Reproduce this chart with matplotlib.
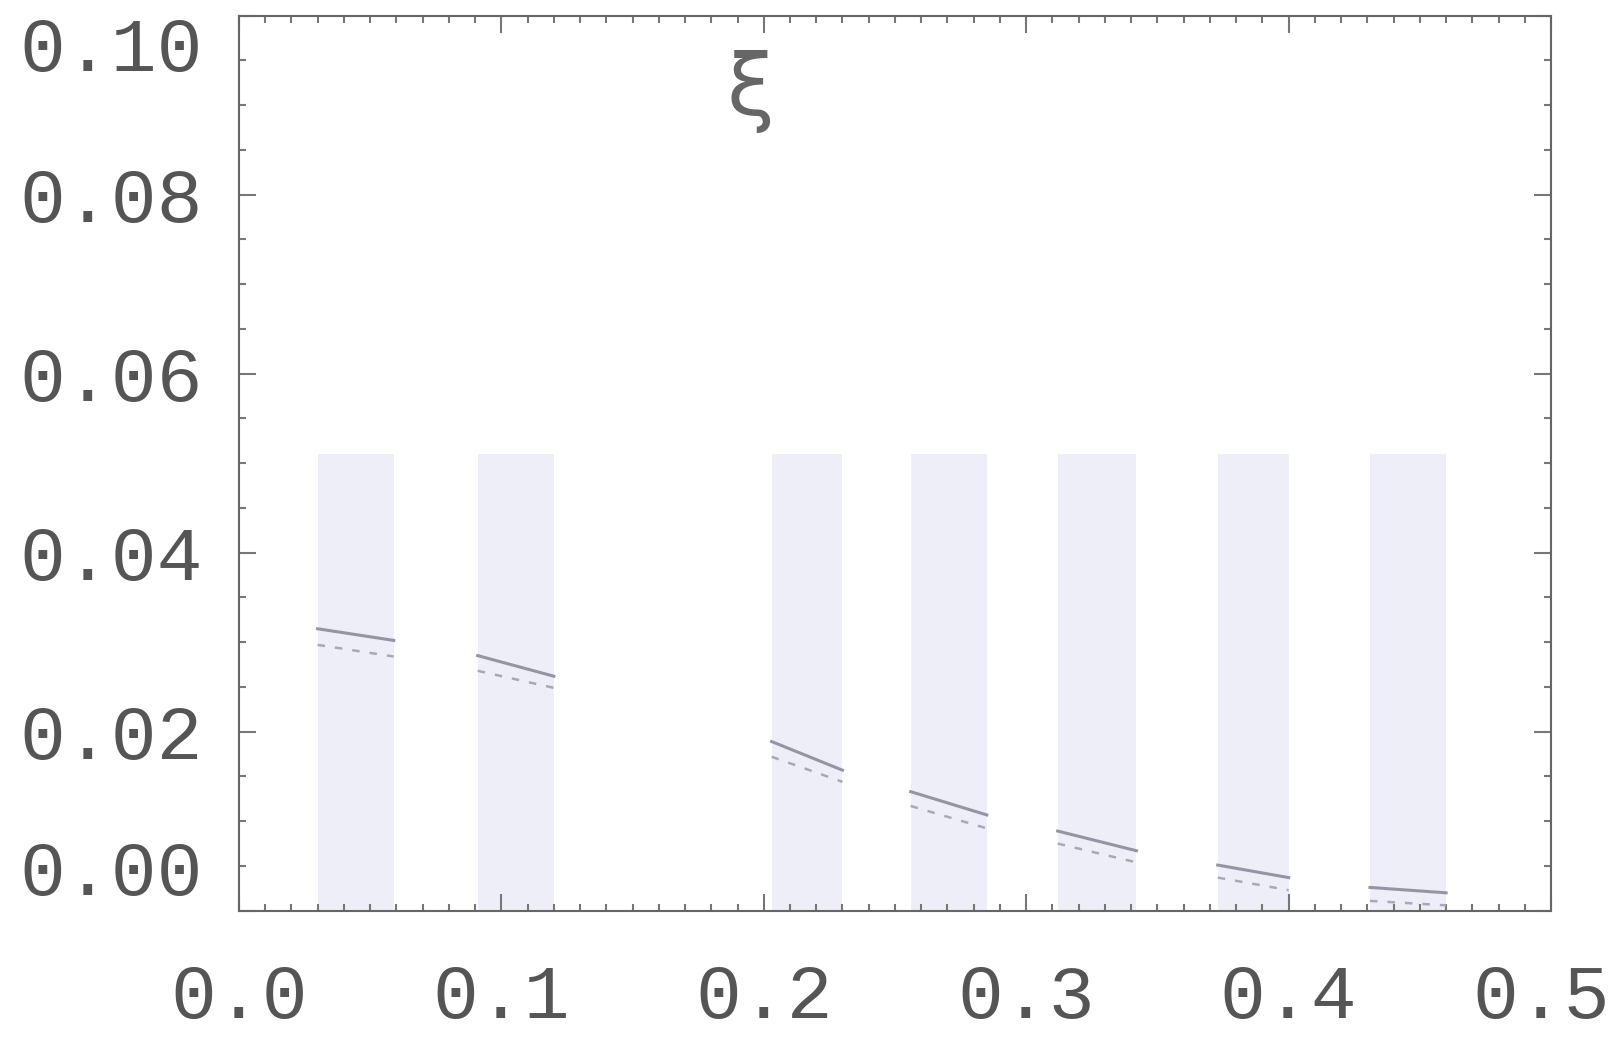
import matplotlib
matplotlib.use("Agg")
import matplotlib.pyplot as plt
import matplotlib.transforms as mtransforms
from matplotlib.ticker import MultipleLocator

# shaded windows (x extent) and their common height
span_lo = [0.030, 0.091, 0.203, 0.256, 0.312, 0.373, 0.431]
span_hi = [0.059, 0.120, 0.230, 0.285, 0.342, 0.400, 0.460]
span_top = 0.051

# value at the left / right edge of each window
solid_start = [0.0315, 0.0285, 0.0189, 0.0133, 0.0089, 0.0051, 0.0026]
solid_end = [0.0302, 0.0262, 0.0157, 0.0107, 0.0067, 0.0037, 0.0020]
dashed_start = [0.0297, 0.0268, 0.0172, 0.0117, 0.0075, 0.0037, 0.0011]
dashed_end = [0.0284, 0.0249, 0.0144, 0.0092, 0.0054, 0.0023, 0.0006]

x_ticks = [0.0, 0.1, 0.2, 0.3, 0.4, 0.5]
y_ticks = [0.00, 0.02, 0.04, 0.06, 0.08, 0.10]

plt.rcParams['font.family'] = ['Liberation Mono', 'DejaVu Sans']

fig = plt.figure(figsize=(16.14, 10.42), dpi=100)
ax = fig.add_axes([0.148, 0.126, 0.813, 0.859])

for i in range(len(span_lo)):
    w = span_hi[i] - span_lo[i]
    ax.bar(span_lo[i], span_top, width=w, align='edge', color='#eeeef9', zorder=1)
    ax.plot([span_lo[i], span_hi[i]], [solid_start[i], solid_end[i]],
            color='#9494a4', lw=2.2, zorder=2)
    ax.plot([span_lo[i], span_hi[i]], [dashed_start[i], dashed_end[i]],
            color='#a8a8b8', lw=1.8, ls=(0, (3, 4)), zorder=2)

ax.text(0.195, 0.0915, "ξ", fontsize=62, color='#666666', ha='center', va='center',
        family='DejaVu Sans')

ax.set_xlim(0, 0.5)
ax.set_ylim(0, 0.10)
ax.set_xticks(x_ticks)
ax.set_yticks(y_ticks)
ax.set_xticklabels(["%.1f" % v for v in x_ticks])
ax.set_yticklabels(["%.2f" % v for v in y_ticks])
ax.xaxis.set_minor_locator(MultipleLocator(0.01))
ax.yaxis.set_minor_locator(MultipleLocator(0.005))
ax.tick_params(which='both', direction='in', top=True, right=True, colors='#777777')
ax.tick_params(which='major', length=12, width=1.5, labelsize=55, labelcolor='#555555')
ax.tick_params(axis='x', which='major', pad=38)
ax.tick_params(axis='y', which='major', pad=26)
ax.tick_params(which='minor', length=5, width=1.5)

# keep the end labels inside the frame height
ylabels = ax.get_yticklabels()
ylabels[0].set_va('bottom')
ylabels[-1].set_va('top')

# nudge the last x label so it stays on the canvas
xlabels = ax.get_xticklabels()
shift = mtransforms.ScaledTranslation(-10 / 100, 0, fig.dpi_scale_trans)
xlabels[-1].set_transform(xlabels[-1].get_transform() + shift)

for s in ax.spines.values():
    s.set_color('#666666')
    s.set_linewidth(1.5)

fig.savefig("out.png", dpi=100)
